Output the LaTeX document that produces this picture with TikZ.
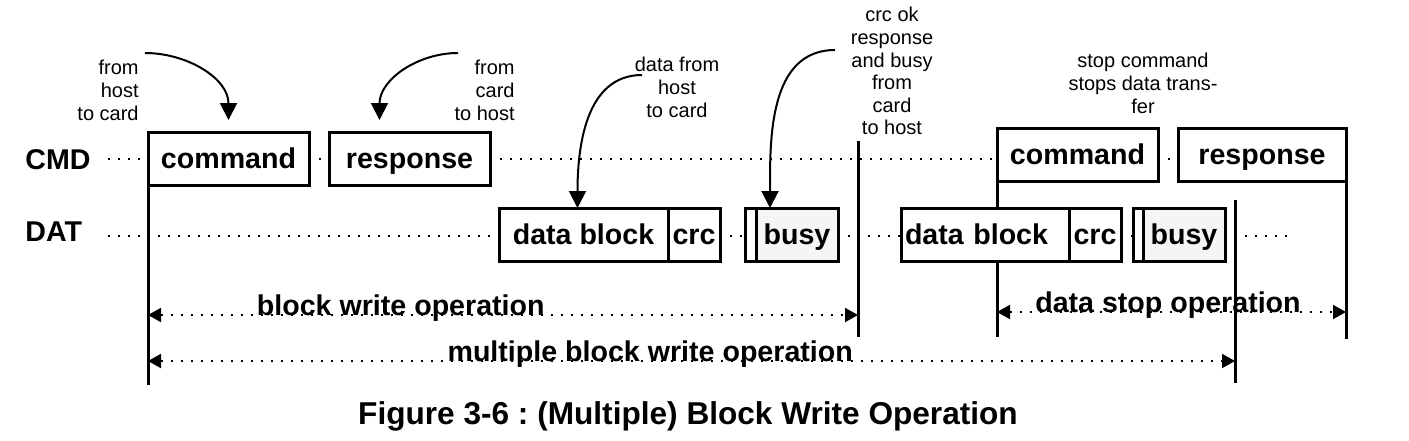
\documentclass[tikz,border=0pt]{standalone}
\usepackage{fontspec}
\setmainfont{Liberation Sans}
\usetikzlibrary{arrows.meta, positioning, backgrounds}
\definecolor{busygray}{gray}{0.96}
\newcommand{\boxfont}{\fontsize{14.3}{17}\selectfont\bfseries}
\newcommand{\notefont}{\fontsize{10}{11.3}\selectfont}
\newcommand{\capfont}{\fontsize{15.8}{19}\selectfont\bfseries\frenchspacing}

\begin{document}
\begin{tikzpicture}[x=0.5pt, y=-0.5pt,
    sigbox/.style={draw, fill=white, line width=1.5pt, font=\boxfont, minimum height=26.5pt,
                   text height=10pt, text depth=0pt, inner sep=0pt, outer sep=0pt, anchor=north west},
    dotline/.style={line width=1pt, dash pattern=on 1pt off 4pt},
    edge/.style={line width=1.5pt},
    note/.style={font=\notefont, inner sep=0pt},
    bendarrow/.style={line width=1pt, -{Triangle[length=8.5pt, width=8.5pt]}},
    span/.style={dotline, {Triangle[length=6.5pt, width=7pt]}-{Triangle[length=6.5pt, width=7pt]}},
    spanlabel/.style={font=\boxfont, anchor=base, inner sep=0pt}]

    \useasboundingbox (0,0) rectangle (1409,440);

    % Row labels
    \node[font=\boxfont, anchor=west, inner sep=0pt] (cmdLabel) at (25,160) {CMD};
    \node[font=\boxfont, anchor=west, inner sep=0pt] (datLabel) at (25,232) {DAT};
    \coordinate (cmdRow) at (108,159);
    \coordinate (datRow) at (108,236);

    % CMD line boxes
    \node[sigbox, minimum width=80.5pt] (cmdA) at (148,132) {command};
    \node[sigbox, minimum width=80.5pt] (rspA) at (329,132) {response};
    \node[sigbox, minimum width=80.5pt] (cmdB) at (997,128) {command};
    \node[sigbox, minimum width=84pt] (rspB) at (1178,128) {response};

    % DAT line boxes
    \node[sigbox, minimum width=84.5pt] (dataA) at (499,208) {data block};
    \node[sigbox, minimum width=26pt] (crcA) at (dataA.north east) {crc};
    \node[sigbox, minimum width=5.5pt] (nbA) at (745,208) {};
    \node[sigbox, minimum width=41pt, fill=busygray] (busyA) at (nbA.north east) {busy};
    \node[sigbox, text width=80pt, inner xsep=2pt, align=left] (dataB) at (901,208) {data block};
    \node[sigbox, minimum width=26pt] (crcB) at (dataB.north east) {crc};
    \node[sigbox, minimum width=5pt] (nbB) at (1133,208) {};
    \node[sigbox, minimum width=41pt, fill=busygray] (busyB) at (nbB.north east) {busy};

    % Idle dots
    \draw[dotline] (cmdRow) -- (cmdRow -| cmdA.west);
    \draw[dotline] (cmdRow -| cmdA.east) -- (cmdRow -| rspA.west);
    \draw[dotline] (cmdRow -| rspA.east) -- (cmdRow -| cmdB.west);
    \draw[dotline] (cmdRow -| cmdB.east) -- (cmdRow -| rspB.west);
    \draw[dotline] (datRow) -- (datRow -| dataA.west);
    \draw[dotline] (datRow -| crcA.east) -- (datRow -| nbA.west);
    \draw[dotline] (datRow -| busyA.east) -- (datRow -| dataB.west);
    \draw[dotline] (datRow -| crcB.east) -- (datRow -| nbB.west);
    \draw[dotline] (datRow -| busyB.east) -- ++(65,0);

    % Notes
    \node[note, align=right, anchor=north east] (noteCmd) at (139,60) {from\\host\\to card};
    \node[note, align=right, anchor=north east] (noteRsp) at (515,60) {from\\card\\to host};
    \node[note, align=center, anchor=north] (noteData) at (677,57) {data from\\host\\to card};
    \node[note, align=center, anchor=north] (noteBusy) at (892,7) {crc ok\\response\\and busy\\from\\card\\to host};
    \node[note, align=center, anchor=north] (noteStop) at (1143,53) {stop command\\stops data trans-\\fer};

    % Note arrows
    \coordinate (fromHost) at (145,53);
    \coordinate (fromCard) at (458,53);
    \coordinate (dataTail) at (642,75);
    \coordinate (busyTail) at (835,50);
    \draw[bendarrow] (fromHost) to[out=0, in=90] ([yshift=6pt]cmdA.north);
    \draw[bendarrow] (fromCard) to[out=180, in=90] ([xshift=-15pt, yshift=6pt]rspA.north);
    \draw[bendarrow] (dataTail) to[out=180, in=90] ([xshift=-3pt]dataA.north);
    \draw[bendarrow] (busyTail) to[out=180, in=90] ([xshift=-13.5pt]busyA.north);

    % Markers
    \coordinate (wrEnd) at (858,141);
    \coordinate (mwEnd) at (1235,200);
    \begin{scope}[on background layer]
        \draw[edge] (cmdA.south west) -- ++(0,200);
        \draw[edge] (wrEnd) -- ++(0,196);
        \draw[edge] (cmdB.south west) -- ++(0,156);
        \draw[edge] (mwEnd) -- ++(0,183);
        \draw[edge] (rspB.south east) -- ++(0,158);
    \end{scope}

    % Operation spans
    \draw[span] (cmdA.south west |- 0,315) -- node[spanlabel, pos=0.356] {block write operation} (wrEnd |- 0,315);
    \draw[span] (cmdB.south west |- 0,312) -- node[spanlabel, pos=0.49] {data stop operation} (rspB.south east |- 0,312);
    \draw[span] (cmdA.south west |- 0,361) -- node[spanlabel, pos=0.462] {multiple block write operation} (mwEnd |- 0,361);

    % Caption
    \node[font=\capfont, anchor=base, inner sep=0pt] (caption) at (688,424) {Figure 3-6 : (Multiple) Block Write Operation};

\end{tikzpicture}
\end{document}
